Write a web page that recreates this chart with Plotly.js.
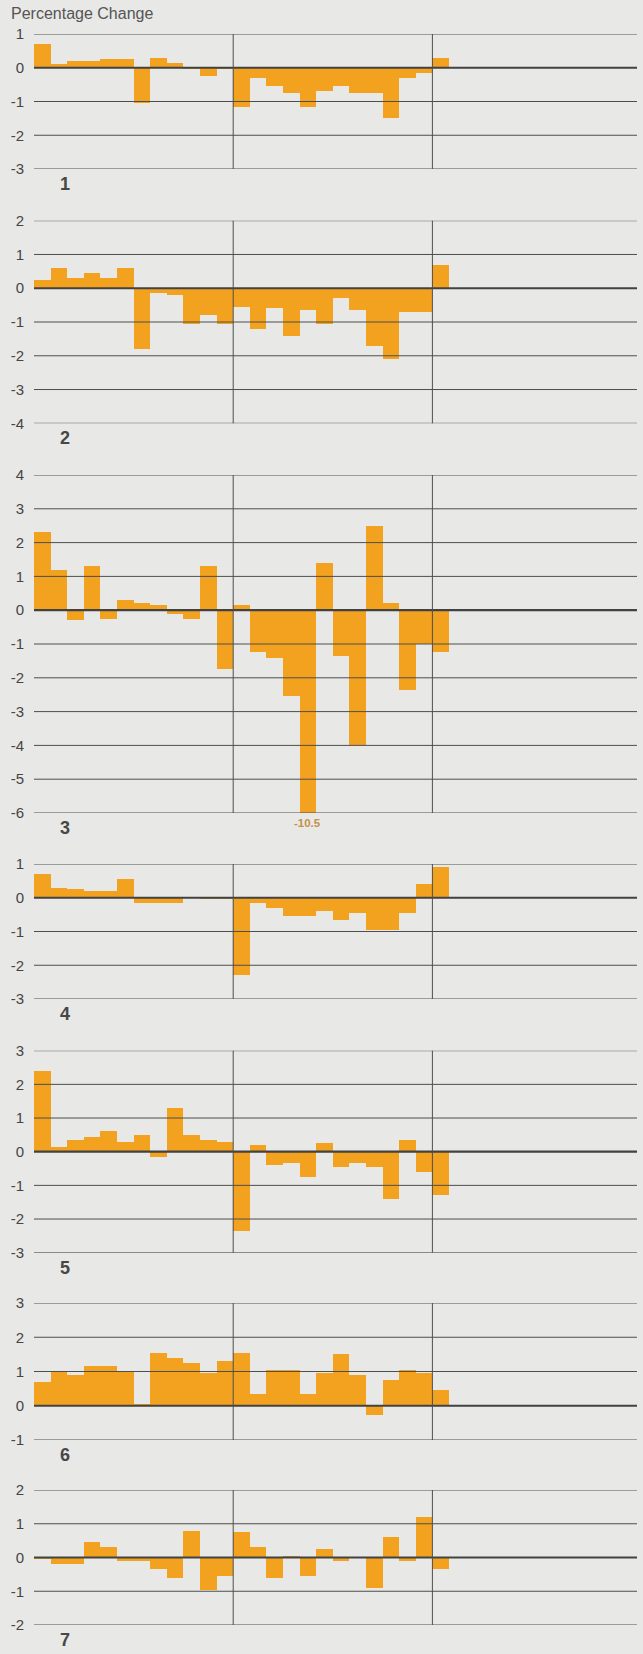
<!DOCTYPE html>
<html>
<head>
<meta charset="utf-8">
<script src="https://cdn.plot.ly/plotly-3.0.1.min.js"></script>
<style>
  html, body { margin: 0; padding: 0; background: #e8e8e6; }
  #chart { width: 643px; height: 1654px; }
</style>
</head>
<body>
<div id="chart"></div>
<script>
// Monthly periods: two full years plus the first month of a third
const months = [1,2,3,4,5,6,7,8,9,10,11,12,13,14,15,16,17,18,19,20,21,22,23,24,25];
const yearBreaks = [12, 24];

const panelLabels = ["1", "2", "3", "4", "5", "6", "7"];

const series1 = [0.7, 0.1, 0.2, 0.2, 0.25, 0.25, -1.05, 0.3, 0.15, -0.05, -0.25, -0.05,
                 -1.15, -0.3, -0.55, -0.75, -1.15, -0.7, -0.55, -0.75, -0.75, -1.5, -0.3, -0.15, 0.3];
const series2 = [0.25, 0.6, 0.3, 0.45, 0.3, 0.6, -1.8, -0.15, -0.2, -1.05, -0.8, -1.05,
                 -0.55, -1.2, -0.6, -1.4, -0.65, -1.05, -0.3, -0.65, -1.7, -2.1, -0.7, -0.7, 0.7];
const series3 = [2.3, 1.2, -0.3, 1.3, -0.25, 0.3, 0.2, 0.15, -0.1, -0.25, 1.3, -1.75,
                 0.15, -1.25, -1.4, -2.55, -10.5, 1.4, -1.35, -4.0, 2.5, 0.2, -2.35, -1.0, -1.25];
const series4 = [0.7, 0.3, 0.25, 0.2, 0.2, 0.55, -0.15, -0.15, -0.15, 0, -0.05, -0.05,
                 -2.3, -0.15, -0.3, -0.55, -0.55, -0.4, -0.65, -0.45, -0.95, -0.95, -0.45, 0.4, 0.9];
const series5 = [2.4, 0.15, 0.35, 0.45, 0.6, 0.3, 0.5, -0.15, 1.3, 0.5, 0.35, 0.3,
                 -2.35, 0.2, -0.4, -0.35, -0.75, 0.25, -0.45, -0.35, -0.45, -1.4, 0.35, -0.6, -1.3];
const series6 = [0.7, 1.0, 0.9, 1.15, 1.15, 1.0, 0.05, 1.55, 1.4, 1.25, 0.95, 1.3,
                 1.55, 0.35, 1.05, 1.05, 0.35, 0.95, 1.5, 0.9, -0.27, 0.75, 1.05, 0.95, 0.45];
const series7 = [-0.05, -0.2, -0.2, 0.45, 0.3, -0.1, -0.1, -0.35, -0.6, 0.8, -0.95, -0.55,
                 0.75, 0.3, -0.6, 0.05, -0.55, 0.25, -0.1, 0, -0.9, 0.6, -0.1, 1.2, -0.35];

const yRanges = [[-3, 1], [-4, 2], [-6, 4], [-3, 1], [-3, 3], [-1, 3], [-2, 2]];
const offScaleNote = {panel: 3, month: 17, text: "-10.5"};

const allSeries = [series1, series2, series3, series4, series5, series6, series7];

// ---- layout (pixel geometry of the 643 x 1654 page) ----
const W = 643, H = 1654;
const plotLeft = 34, plotRight = 637;
const pxPerMonth = 16.6;
const xMax = (plotRight - plotLeft) / pxPerMonth;
const panelPx = [[34, 169], [220.7, 423.3], [475, 813], [864, 999], [1050.7, 1252.7], [1303, 1440], [1490, 1625]];

const BG = "#e8e8e6";
const BAR = "#f3a21f";
const GRID = "#4e4e4e";
const TEXT = "#454545";
const FONT = "Liberation Sans, Arial, Helvetica, sans-serif";

const traces = [];
const shapes = [];
const annotations = [];
const layout = {
  width: W, height: H,
  margin: {l: 0, r: 0, t: 0, b: 0, pad: 0},
  paper_bgcolor: BG, plot_bgcolor: BG,
  showlegend: false,
  bargap: 0,
  font: {family: FONT, color: TEXT, size: 13},
  shapes: shapes, annotations: annotations
};

allSeries.forEach((vals, k) => {
  const n = k + 1;
  const xa = n === 1 ? "x" : "x" + n;
  const ya = n === 1 ? "y" : "y" + n;
  const xKey = n === 1 ? "xaxis" : "xaxis" + n;
  const yKey = n === 1 ? "yaxis" : "yaxis" + n;
  const [top, bot] = panelPx[k];
  const [ymin, ymax] = yRanges[k];

  traces.push({
    type: "bar",
    x: months.map(m => m - 0.5),
    y: vals,
    width: 1,
    xaxis: xa, yaxis: ya,
    marker: {color: BAR, line: {width: 0}},
    hoverinfo: "x+y"
  });

  layout[xKey] = {
    domain: [plotLeft / W, plotRight / W],
    range: [0, xMax],
    anchor: ya,
    showgrid: false, zeroline: false, showline: false,
    showticklabels: false, ticks: "", fixedrange: true
  };
  const tv = [];
  for (let v = ymin; v <= ymax; v++) tv.push(v);
  layout[yKey] = {
    domain: [1 - bot / H, 1 - top / H],
    range: [ymin, ymax],
    anchor: xa,
    tickmode: "array", tickvals: tv, ticktext: tv.map(String),
    showgrid: false, zeroline: false, showline: false,
    ticks: "outside", ticklen: 6, tickcolor: "rgba(0,0,0,0)",
    tickfont: {family: FONT, size: 15, color: TEXT},
    fixedrange: true
  };

  // horizontal rules (drawn above the bars, as in the print)
  tv.forEach(v => {
    shapes.push({
      type: "line", layer: "above",
      xref: xa + " domain", x0: 0, x1: 1,
      yref: ya, y0: v, y1: v,
      line: {color: v === 0 ? "#424242" : GRID, width: v === 0 ? 2.2 : 1}
    });
  });
  // year separators
  yearBreaks.forEach(b => {
    shapes.push({
      type: "line", layer: "above",
      xref: xa, x0: b, x1: b,
      yref: ya + " domain", y0: 0, y1: 1,
      line: {color: GRID, width: 1}
    });
  });

  annotations.push({
    text: "<b>" + panelLabels[k] + "</b>",
    xref: xa + " domain", x: 0, xshift: 31, xanchor: "center",
    yref: ya + " domain", y: 0, yshift: -15, yanchor: "middle",
    showarrow: false,
    font: {family: FONT, size: 18, color: "#474747"}
  });

  if (offScaleNote.panel === n) {
    annotations.push({
      text: "<b>" + offScaleNote.text + "</b>",
      xref: xa, x: offScaleNote.month - 0.5, xanchor: "center",
      yref: ya + " domain", y: 0, yshift: -10, yanchor: "middle",
      showarrow: false,
      font: {family: FONT, size: 11.5, color: "#c4924a"}
    });
  }
});

annotations.push({
  text: "Percentage Change",
  xref: "paper", x: 9 / W, xanchor: "left",
  yref: "paper", y: 1 - 13 / H, yanchor: "middle",
  showarrow: false,
  font: {family: FONT, size: 16, color: "#555"}
});

Plotly.newPlot("chart", traces, layout, {displayModeBar: false, staticPlot: true});
</script>
</body>
</html>
